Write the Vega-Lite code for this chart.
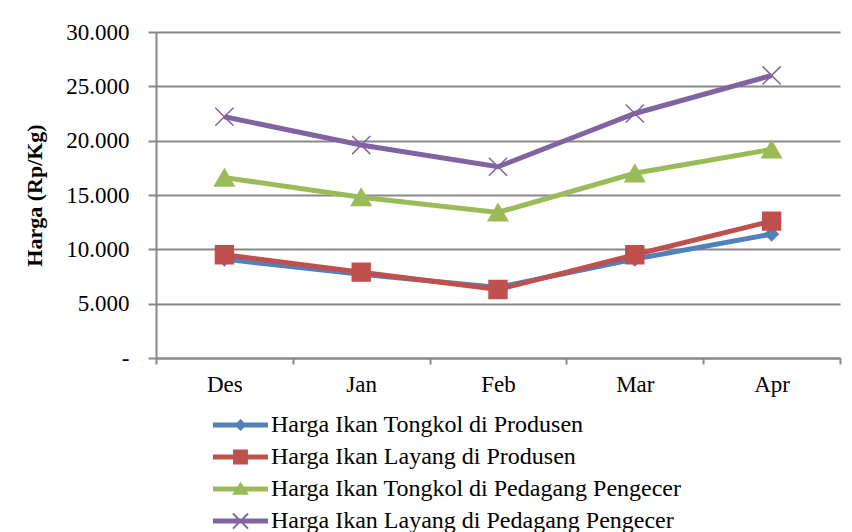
{
  "$schema": "https://vega.github.io/schema/vega-lite/v6.json",
  "width": 684,
  "height": 326,
  "autosize": "none",
  "padding": {"left": 156, "top": 32, "right": 12, "bottom": 174},
  "background": "white",
  "config": {
    "view": {"stroke": null},
    "font": "Liberation Serif",
    "axis": {"labelFont": "Liberation Serif", "titleFont": "Liberation Serif"},
    "legend": {"labelFont": "Liberation Serif", "titleFont": "Liberation Serif"}
  },
  "data": {
    "values": [
      {"series": "Harga Ikan Tongkol di Produsen", "month": "Des", "price": 9100},
      {"series": "Harga Ikan Tongkol di Produsen", "month": "Jan", "price": 7700},
      {"series": "Harga Ikan Tongkol di Produsen", "month": "Feb", "price": 6500},
      {"series": "Harga Ikan Tongkol di Produsen", "month": "Mar", "price": 9100},
      {"series": "Harga Ikan Tongkol di Produsen", "month": "Apr", "price": 11400},
      {"series": "Harga Ikan Layang di Produsen", "month": "Des", "price": 9500},
      {"series": "Harga Ikan Layang di Produsen", "month": "Jan", "price": 7900},
      {"series": "Harga Ikan Layang di Produsen", "month": "Feb", "price": 6300},
      {"series": "Harga Ikan Layang di Produsen", "month": "Mar", "price": 9500},
      {"series": "Harga Ikan Layang di Produsen", "month": "Apr", "price": 12600},
      {"series": "Harga Ikan Tongkol di Pedagang Pengecer", "month": "Des", "price": 16600},
      {"series": "Harga Ikan Tongkol di Pedagang Pengecer", "month": "Jan", "price": 14800},
      {"series": "Harga Ikan Tongkol di Pedagang Pengecer", "month": "Feb", "price": 13400},
      {"series": "Harga Ikan Tongkol di Pedagang Pengecer", "month": "Mar", "price": 17000},
      {"series": "Harga Ikan Tongkol di Pedagang Pengecer", "month": "Apr", "price": 19200},
      {"series": "Harga Ikan Layang di Pedagang Pengecer", "month": "Des", "price": 22200},
      {"series": "Harga Ikan Layang di Pedagang Pengecer", "month": "Jan", "price": 19600},
      {"series": "Harga Ikan Layang di Pedagang Pengecer", "month": "Feb", "price": 17600},
      {"series": "Harga Ikan Layang di Pedagang Pengecer", "month": "Mar", "price": 22500},
      {"series": "Harga Ikan Layang di Pedagang Pengecer", "month": "Apr", "price": 26000}
    ]
  },
  "encoding": {
    "x": {
      "field": "month", "type": "nominal",
      "sort": ["Des", "Jan", "Feb", "Mar", "Apr"],
      "scale": {"type": "band", "paddingInner": 0, "paddingOuter": 0},
      "axis": {
        "title": null, "labelAngle": 0, "tickBand": "extent", "grid": false,
        "labelFont": "Liberation Serif", "labelFontSize": 23, "labelColor": "black", "labelPadding": 9,
        "tickSize": 6, "tickColor": "#888888", "tickWidth": 2,
        "domainColor": "#888888", "domainWidth": 2
      }
    },
    "y": {
      "field": "price", "type": "quantitative",
      "scale": {"domain": [0, 30000]},
      "axis": {
        "title": "Harga (Rp/Kg)",
        "values": [0, 5000, 10000, 15000, 20000, 25000, 30000],
        "labelExpr": "datum.value == 0 ? '-\u00a0\u00a0' : replace(format(datum.value, ','), ',', '.')",
        "labelFont": "Liberation Serif", "labelFontSize": 23, "labelColor": "black", "labelPadding": 19,
        "tickSize": 8, "tickColor": "#888888", "tickWidth": 2,
        "domainColor": "#888888", "domainWidth": 2,
        "grid": true, "gridColor": "#888888", "gridWidth": 2,
        "titleFont": "Liberation Serif", "titleFontSize": 22, "titleFontWeight": "bold", "titleColor": "black", "titlePadding": 19
      }
    }
  },
  "layer": [
    {
      "mark": {"type": "line", "strokeWidth": 5},
      "encoding": {
        "color": {
          "field": "series", "type": "nominal",
          "scale": {
            "domain": ["Harga Ikan Tongkol di Produsen", "Harga Ikan Layang di Produsen", "Harga Ikan Tongkol di Pedagang Pengecer", "Harga Ikan Layang di Pedagang Pengecer"],
            "range": ["#4F81BD", "#C0504D", "#9BBB59", "#8064A2"]
          },
          "legend": {
            "title": null, "orient": "none", "legendX": 57, "legendY": 377, "direction": "vertical",
            "labelFont": "Liberation Serif", "labelFontSize": 24, "labelColor": "black", "labelOffset": 3, "labelLimit": 700,
            "symbolSize": 3025, "clipHeight": 32, "rowPadding": 0, "padding": 0,
            "encode": {
              "symbols": {
                "update": {
                  "shape": {"signal": "['M-1,-0.09H1V0.09H-1Z M0,-0.22L0.22,0L0,0.22L-0.22,0Z', 'M-1,-0.09H1V0.09H-1Z M-0.27,-0.27H0.27V0.27H-0.27Z', 'M-1,-0.09H1V0.09H-1Z M0,-0.26L0.31,0.21H-0.31Z', 'M-1,-0.09H1V0.09H-1Z M-0.3,-0.25L-0.25,-0.3L0.3,0.25L0.25,0.3Z M0.25,-0.3L0.3,-0.25L-0.25,0.3L-0.3,0.25Z'][datum.index]"},
                  "fill": {"signal": "scale('color', datum.value)"},
                  "stroke": {"value": "transparent"},
                  "strokeWidth": {"value": 0},
                  "opacity": {"value": 1}
                }
              }
            }
          }
        }
      }
    },
    {
      "transform": [{"filter": "datum.series == 'Harga Ikan Tongkol di Produsen'"}],
      "mark": {"type": "point", "shape": "diamond", "size": 170, "filled": true, "opacity": 1, "fill": "#4F81BD", "stroke": "#4F81BD", "strokeWidth": 1.5}
    },
    {
      "transform": [{"filter": "datum.series == 'Harga Ikan Layang di Produsen'"}],
      "mark": {"type": "point", "shape": "square", "size": 320, "filled": true, "opacity": 1, "fill": "#C0504D", "stroke": "#C0504D", "strokeWidth": 1.5}
    },
    {
      "transform": [{"filter": "datum.series == 'Harga Ikan Tongkol di Pedagang Pengecer'"}],
      "mark": {"type": "point", "shape": "triangle-up", "size": 380, "filled": true, "opacity": 1, "fill": "#9BBB59", "stroke": "#9BBB59", "strokeWidth": 1.5}
    },
    {
      "transform": [{"filter": "datum.series == 'Harga Ikan Layang di Pedagang Pengecer'"}],
      "mark": {"type": "point", "shape": "M-1,-1L1,1M-1,1L1,-1", "size": 330, "filled": false, "opacity": 1, "stroke": "#8064A2", "strokeWidth": 1.5}
    }
  ]
}
